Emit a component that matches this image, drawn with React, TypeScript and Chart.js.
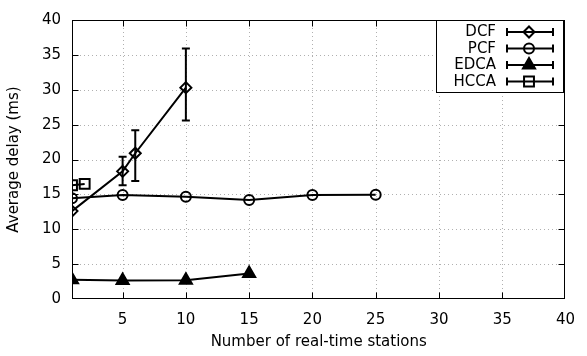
import React, { useEffect, useRef } from "react";
import { Chart, registerables } from "chart.js";
import { drawPoint } from "chart.js/helpers";
Chart.register(...registerables);

const xTickValues = [5, 10, 15, 20, 25, 30, 35, 40];
const yTickValues = [0, 5, 10, 15, 20, 25, 30, 35, 40];

const dcfX = [1, 5, 6, 10];
const dcfY = [12.6, 18.3, 20.9, 30.3];
const dcfLow = [12.6, 16.3, 16.9, 25.6];
const dcfHigh = [12.6, 20.4, 24.2, 35.9];

const pcfX = [1, 5, 10, 15, 20, 25];
const pcfY = [14.45, 14.9, 14.65, 14.2, 14.9, 14.95];

const edcaX = [1, 5, 10, 15];
const edcaY = [2.75, 2.65, 2.7, 3.65];

const hccaX = [1, 2];
const hccaY = [16.3, 16.5];

const seriesNames = ["DCF", "PCF", "EDCA", "HCCA"];
const seriesShapes = ["rectRot", "circle", "triangle", "rect"];
const seriesRadius = [5.5, 5, 7, 7];
const seriesFilled = [false, false, true, false];

const FONT = "'DejaVu Sans', sans-serif";
const FONT_SIZE = 15;

function pts(xs: number[], ys: number[]) {
  return xs.map((x, i) => ({ x, y: ys[i] }));
}

const framePlugin = {
  id: "gnuFrame",
  beforeDatasetsDraw(chart: any) {
    const { ctx, chartArea: a, scales } = chart;
    ctx.save();
    ctx.strokeStyle = "#b0b0b0";
    ctx.lineWidth = 1;
    ctx.setLineDash([1, 3]);
    xTickValues.forEach((v) => {
      if (v >= 40) return;
      const x = Math.round(scales.x.getPixelForValue(v)) + 0.5;
      ctx.beginPath();
      ctx.moveTo(x, a.top);
      ctx.lineTo(x, a.bottom);
      ctx.stroke();
    });
    yTickValues.forEach((v) => {
      if (v <= 0 || v >= 40) return;
      const y = Math.round(scales.y.getPixelForValue(v)) + 0.5;
      ctx.beginPath();
      ctx.moveTo(a.left, y);
      ctx.lineTo(a.right, y);
      ctx.stroke();
    });
    ctx.restore();
  },
  afterDatasetsDraw(chart: any) {
    const { ctx, chartArea: a, scales } = chart;
    // error bars
    ctx.save();
    ctx.strokeStyle = "#000";
    ctx.lineWidth = 2;
    dcfX.forEach((xv, i) => {
      if (dcfLow[i] === dcfHigh[i]) return;
      const x = scales.x.getPixelForValue(xv);
      const y1 = scales.y.getPixelForValue(dcfLow[i]);
      const y2 = scales.y.getPixelForValue(dcfHigh[i]);
      ctx.beginPath();
      ctx.moveTo(x, y1);
      ctx.lineTo(x, y2);
      ctx.moveTo(x - 4, y1);
      ctx.lineTo(x + 4, y1);
      ctx.moveTo(x - 4, y2);
      ctx.lineTo(x + 4, y2);
      ctx.stroke();
    });
    ctx.restore();

    // border and inward ticks
    ctx.save();
    ctx.strokeStyle = "#000";
    ctx.lineWidth = 1;
    const L = Math.round(a.left) + 0.5;
    const R = Math.round(a.right) - 0.5;
    const T = Math.round(a.top) + 0.5;
    const B = Math.round(a.bottom) - 0.5;
    ctx.strokeRect(L, T, R - L, B - T);
    const tl = 6;
    ctx.beginPath();
    xTickValues.forEach((v) => {
      if (v >= 40) return;
      const x = Math.round(scales.x.getPixelForValue(v)) + 0.5;
      ctx.moveTo(x, B);
      ctx.lineTo(x, B - tl);
      ctx.moveTo(x, T);
      ctx.lineTo(x, T + tl);
    });
    yTickValues.forEach((v) => {
      if (v <= 0 || v >= 40) return;
      const y = Math.round(scales.y.getPixelForValue(v)) + 0.5;
      ctx.moveTo(L, y);
      ctx.lineTo(L + tl, y);
      ctx.moveTo(R, y);
      ctx.lineTo(R - tl, y);
    });
    ctx.stroke();
    ctx.restore();

    // axis titles
    ctx.save();
    ctx.fillStyle = "#000";
    ctx.font = `${FONT_SIZE}px ${FONT}`;
    ctx.textAlign = "center";
    ctx.textBaseline = "middle";
    ctx.fillText("Number of real-time stations", (a.left + a.right) / 2, 342);
    ctx.translate(14, (a.top + a.bottom) / 2);
    ctx.rotate(-Math.PI / 2);
    ctx.fillText("Average delay (ms)", 0, 0);
    ctx.restore();

    // legend
    ctx.save();
    const bx = 436.5, by = 20.5, bw = 127, bh = 72;
    ctx.fillStyle = "#fff";
    ctx.fillRect(bx, by, bw, bh);
    ctx.strokeStyle = "#000";
    ctx.lineWidth = 1;
    ctx.strokeRect(bx, by, bw, bh);
    ctx.font = `${FONT_SIZE}px ${FONT}`;
    ctx.textAlign = "right";
    ctx.textBaseline = "middle";
    const rows = [32, 48.5, 65, 81.5];
    seriesNames.forEach((name, i) => {
      const y = rows[i];
      ctx.fillStyle = "#000";
      ctx.fillText(name, 496, y + 0.5);
      ctx.strokeStyle = "#000";
      ctx.lineWidth = 2;
      ctx.beginPath();
      ctx.moveTo(507, y);
      ctx.lineTo(553, y);
      ctx.moveTo(507, y - 4);
      ctx.lineTo(507, y + 4);
      ctx.moveTo(553, y - 4);
      ctx.lineTo(553, y + 4);
      ctx.stroke();
      ctx.fillStyle = seriesFilled[i] ? "#000" : "rgba(0,0,0,0)";
      ctx.strokeStyle = "#000";
      ctx.lineWidth = 2;
      drawPoint(ctx, { pointStyle: seriesShapes[i], radius: seriesRadius[i], borderWidth: 2, rotation: 0 } as any, 529, y);
    });
    ctx.restore();
  },
};

export default function App() {
  const ref = useRef<HTMLCanvasElement | null>(null);
  useEffect(() => {
    document.body.style.margin = "0";
    const canvas = ref.current!;
    const mk = (i: number, data: any[]) => ({
      label: seriesNames[i],
      data,
      borderColor: "#000",
      borderWidth: 2,
      pointStyle: seriesShapes[i],
      pointRadius: seriesRadius[i],
      pointBorderWidth: 2,
      pointBorderColor: "#000",
      pointBackgroundColor: seriesFilled[i] ? "#000" : "rgba(0,0,0,0)",
      showLine: true,
      tension: 0,
    });
    const chart = new Chart(canvas, {
      type: "scatter",
      data: {
        datasets: [
          mk(0, pts(dcfX, dcfY)),
          mk(1, pts(pcfX, pcfY)),
          mk(2, pts(edcaX, edcaY)),
          mk(3, pts(hccaX, hccaY)),
        ],
      },
      options: {
        animation: false,
        responsive: false,
        devicePixelRatio: 1,
        layout: { padding: { top: 13, right: 14, left: 0, bottom: 0 } },
        plugins: { legend: { display: false }, tooltip: { enabled: false } },
        scales: {
          x: {
            type: "linear",
            min: 1,
            max: 40,
            grid: { display: false, drawTicks: false },
            border: { display: false },
            afterBuildTicks: (s: any) => {
              s.ticks = xTickValues.map((v) => ({ value: v }));
            },
            afterFit: (s: any) => {
              s.height = 57;
            },
            ticks: {
              color: "#000",
              font: { family: FONT, size: FONT_SIZE },
              padding: 12,
              maxRotation: 0,
              autoSkip: false,
              callback: (v: any) => String(v),
            },
          },
          y: {
            type: "linear",
            min: 0,
            max: 40,
            grid: { display: false, drawTicks: false },
            border: { display: false },
            afterBuildTicks: (s: any) => {
              s.ticks = yTickValues.map((v) => ({ value: v }));
            },
            afterFit: (s: any) => {
              s.width = 72;
            },
            ticks: {
              color: "#000",
              font: { family: FONT, size: FONT_SIZE },
              padding: 11,
              autoSkip: false,
              callback: (v: any) => String(v),
            },
          },
        },
      } as any,
      plugins: [framePlugin],
    });
    return () => chart.destroy();
  }, []);
  return (
    <div style={{ position: "relative", width: 587, height: 356 }}>
      <canvas ref={ref} width={587} height={356} style={{ width: 587, height: 356, display: "block" }} />
    </div>
  );
}
